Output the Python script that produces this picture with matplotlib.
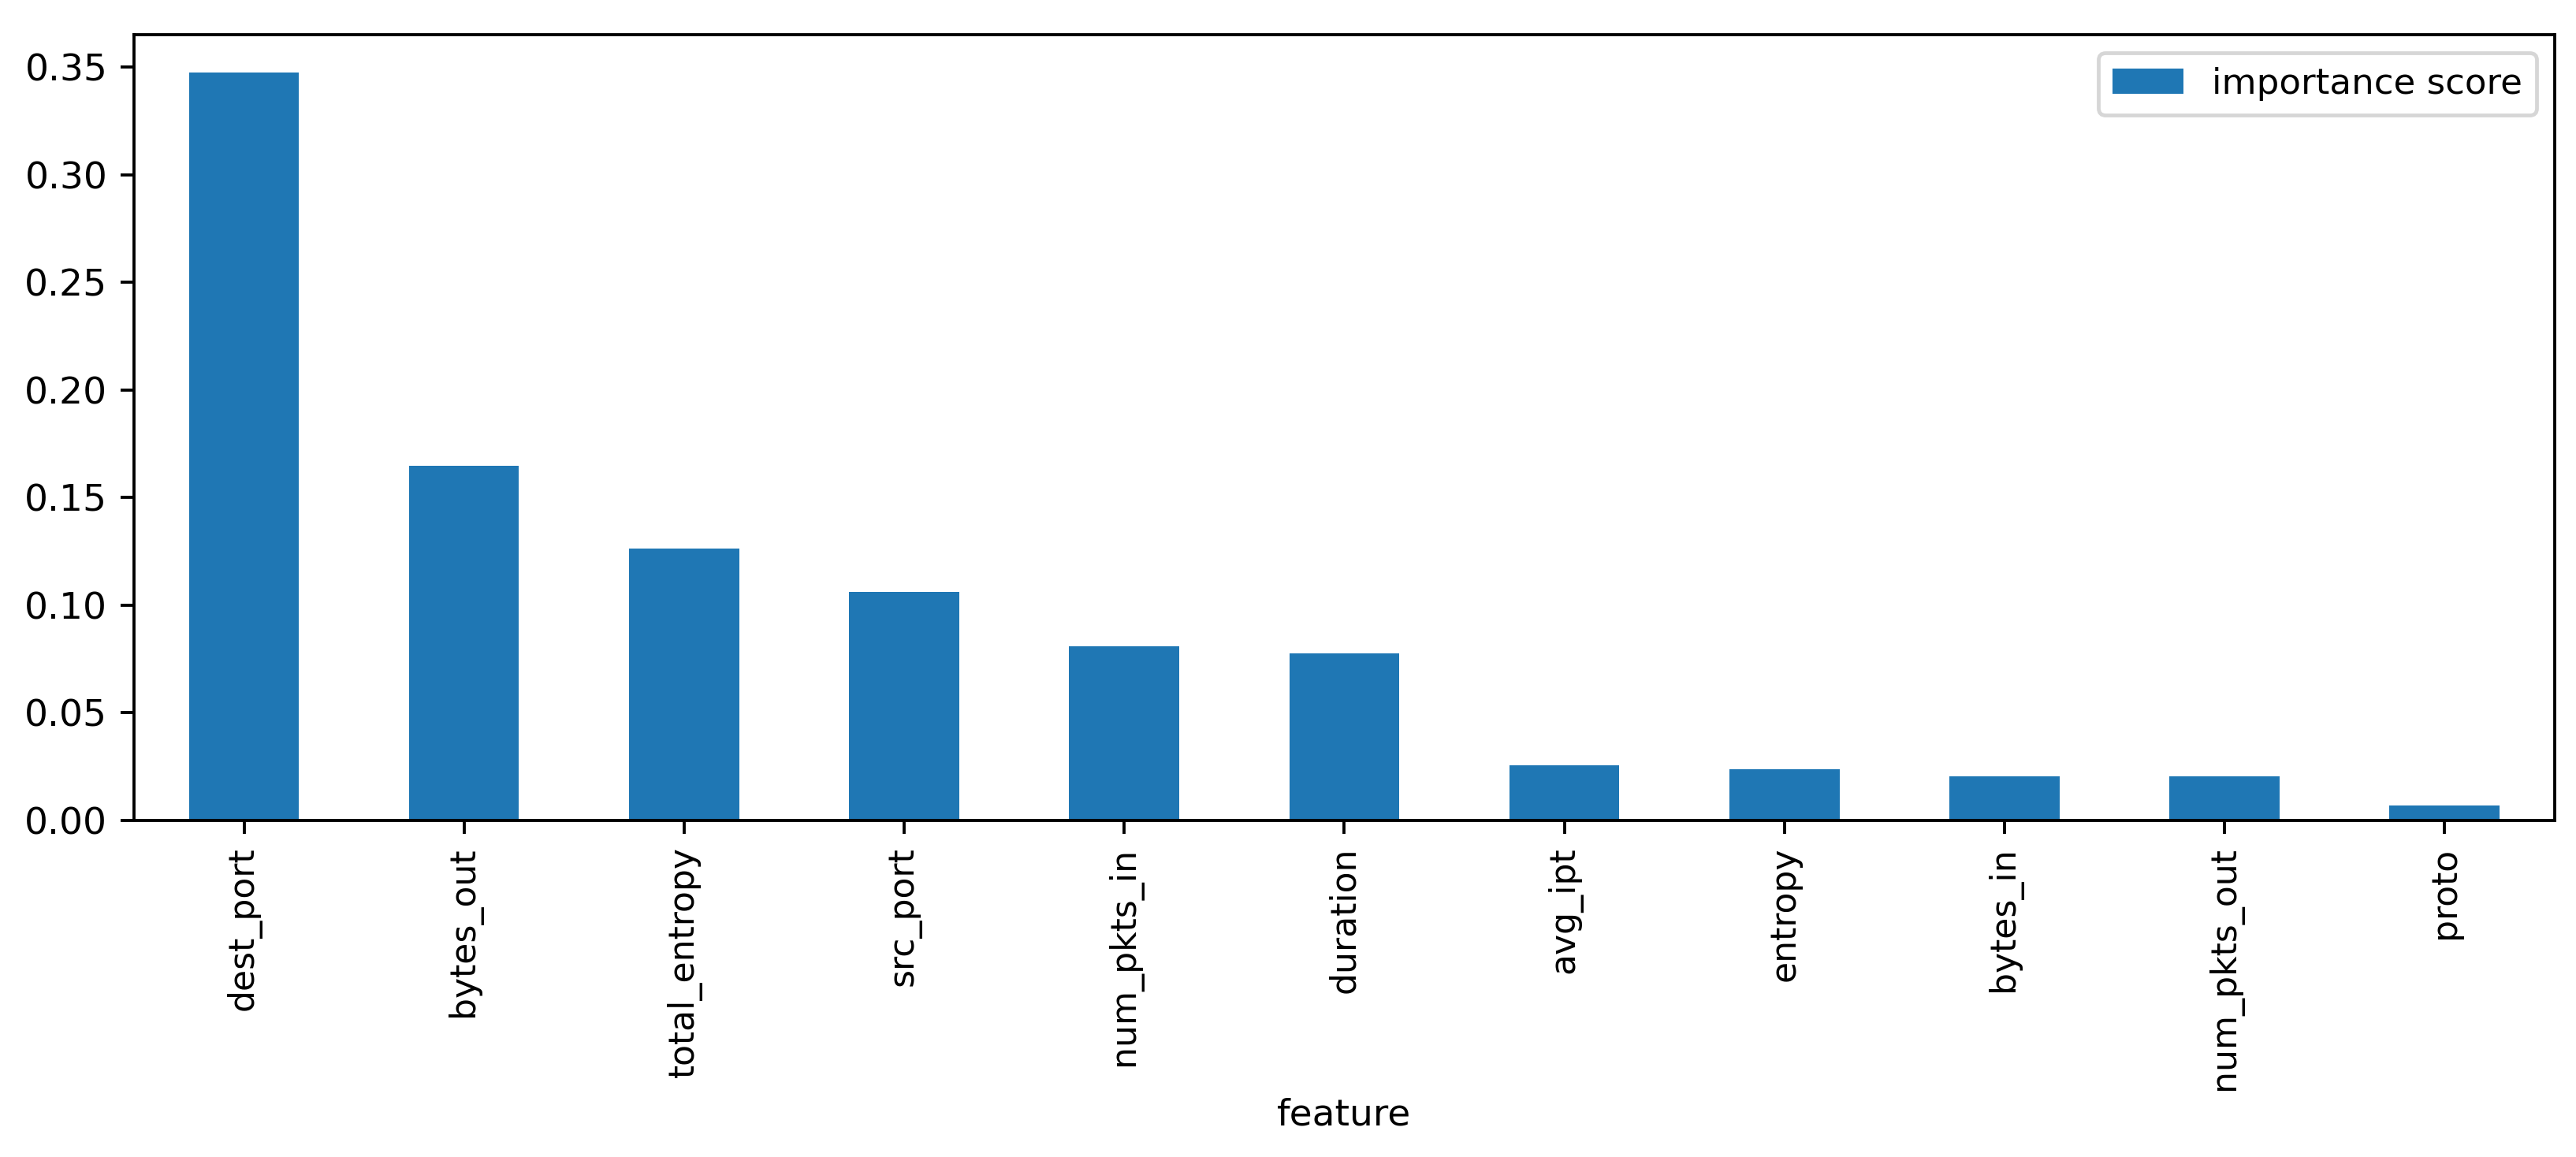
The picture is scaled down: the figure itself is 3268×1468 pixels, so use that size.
import matplotlib
matplotlib.use("Agg")
import matplotlib.pyplot as plt
import pandas as pd

# feature importances
features = ["dest_port", "bytes_out", "total_entropy", "src_port", "num_pkts_in",
            "duration", "avg_ipt", "entropy", "bytes_in", "num_pkts_out", "proto"]
scores = [0.3477, 0.1646, 0.1262, 0.1062, 0.0809, 0.0774, 0.0254, 0.0236, 0.0203, 0.0203, 0.0069]

df = pd.DataFrame({"feature": features, "importance score": scores}).set_index("feature")

fig = plt.figure(figsize=(3268 / 346, 1468 / 346), dpi=346)
ax = fig.add_axes([0.052, 0.291, 0.9397, 0.679])
df.plot.bar(ax=ax)
ax.set_xlim(-0.5, len(features) - 0.5)
ax.tick_params(axis="x", labelsize=9.2)
ax.tick_params(axis="y", labelsize=9.8)
ax.set_xlabel("feature", fontsize=9.8, labelpad=2)
ax.legend(loc="upper right", fontsize=9.4)

fig.savefig("out.png", dpi=346)
